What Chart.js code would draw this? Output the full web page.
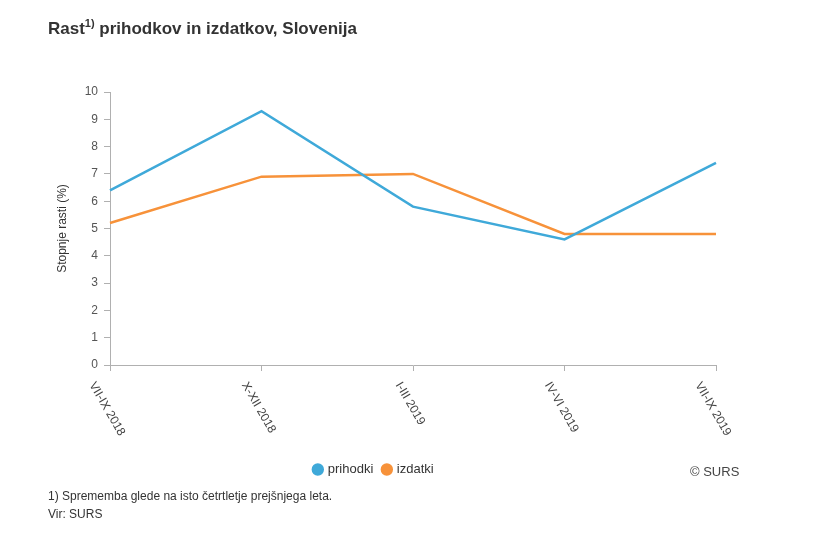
<!DOCTYPE html>
<html>
<head>
<meta charset="utf-8">
<script src="https://cdn.jsdelivr.net/npm/chart.js@4.4.1/dist/chart.umd.min.js"></script>
<style>
  body { margin: 0; background: #fff; font-family: "Liberation Sans", Arial, sans-serif; }
  #wrap { position: relative; width: 835px; height: 546px; }
  #chart { position: absolute; left: 0; top: 0; }
  .title { position: absolute; left: 48px; top: 17px; font-size: 17px; font-weight: bold; color: #333; }
  .title sup { font-size: 11px; }
  .credit { position: absolute; left: 690px; top: 464px; font-size: 13px; color: #444; }
  .note { position: absolute; left: 48px; font-size: 12px; color: #333; }
</style>
</head>
<body>
<div id="wrap">
  <canvas id="chart" width="835" height="546"></canvas>
  <div class="title">Rast<sup>1)</sup> prihodkov in izdatkov, Slovenija</div>
  <div class="credit">© SURS</div>
  <div class="note" style="top:489px">1) Sprememba glede na isto četrtletje prejšnjega leta.</div>
  <div class="note" style="top:507px">Vir: SURS</div>
</div>
<script>
// quarters on the x axis
const quarters = ['VII-IX 2018', 'X-XII 2018', 'I-III 2019', 'IV-VI 2019', 'VII-IX 2019'];
// growth rates in %
const prihodki = [6.4, 9.3, 5.8, 4.6, 7.4];
const izdatki = [5.2, 6.9, 7.0, 4.8, 4.8];

const blue = '#3FA9D9';
const orange = '#F7923A';
const axisGray = '#b0b0b0';

// rotated category labels, drawn at the scale's own tick positions
const rotatedLabels = {
  id: 'rotatedLabels',
  afterDraw(chart) {
    const sc = chart.scales.x;
    const ctx = chart.ctx;
    ctx.save();
    ctx.font = '12px "Liberation Sans", Arial, sans-serif';
    ctx.fillStyle = '#444';
    ctx.textAlign = 'center';
    ctx.textBaseline = 'middle';
    quarters.forEach((q, i) => {
      const x = sc.getPixelForTick(i);
      const w = ctx.measureText(q).width;
      ctx.save();
      ctx.translate(x - 3, sc.top + 18 + w * 0.433);
      ctx.rotate(Math.PI / 3);
      ctx.fillText(q, 0, 0);
      ctx.restore();
    });
    ctx.restore();
  }
};

new Chart(document.getElementById('chart'), {
  type: 'line',
  data: {
    labels: quarters,
    datasets: [
      { label: 'prihodki', data: prihodki, borderColor: blue, backgroundColor: blue, borderWidth: 2.5, pointRadius: 0, tension: 0 },
      { label: 'izdatki', data: izdatki, borderColor: orange, backgroundColor: orange, borderWidth: 2.5, pointRadius: 0, tension: 0 }
    ]
  },
  options: {
    responsive: false,
    animation: false,
    layout: { padding: { left: 32, right: 119, top: 92, bottom: 60 } },
    scales: {
      x: {
        offset: false,
        grid: { drawOnChartArea: false, drawTicks: true, tickLength: 6, color: axisGray },
        border: { display: true, color: axisGray },
        ticks: { display: false },
        afterFit(s) { s.height = 88; }
      },
      y: {
        min: 0, max: 10,
        grid: { drawOnChartArea: false, drawTicks: true, tickLength: 6, color: axisGray },
        border: { display: true, color: axisGray },
        ticks: { stepSize: 1, padding: 6, color: '#555', font: { family: '"Liberation Sans", Arial, sans-serif', size: 12 } },
        title: { display: true, text: 'Stopnje rasti (%)', color: '#333', padding: { top: 23, bottom: 0 }, font: { family: '"Liberation Sans", Arial, sans-serif', size: 12 } },
        afterFit(s) { s.width = 78; }
      }
    },
    plugins: {
      legend: {
        position: 'bottom',
        labels: {
          usePointStyle: true, pointStyle: 'circle', boxWidth: 7, boxHeight: 7, padding: 10,
          color: '#333', font: { family: '"Liberation Sans", Arial, sans-serif', size: 13 }
        }
      },
      tooltip: { enabled: false }
    }
  },
  plugins: [rotatedLabels]
});
</script>
</body>
</html>
